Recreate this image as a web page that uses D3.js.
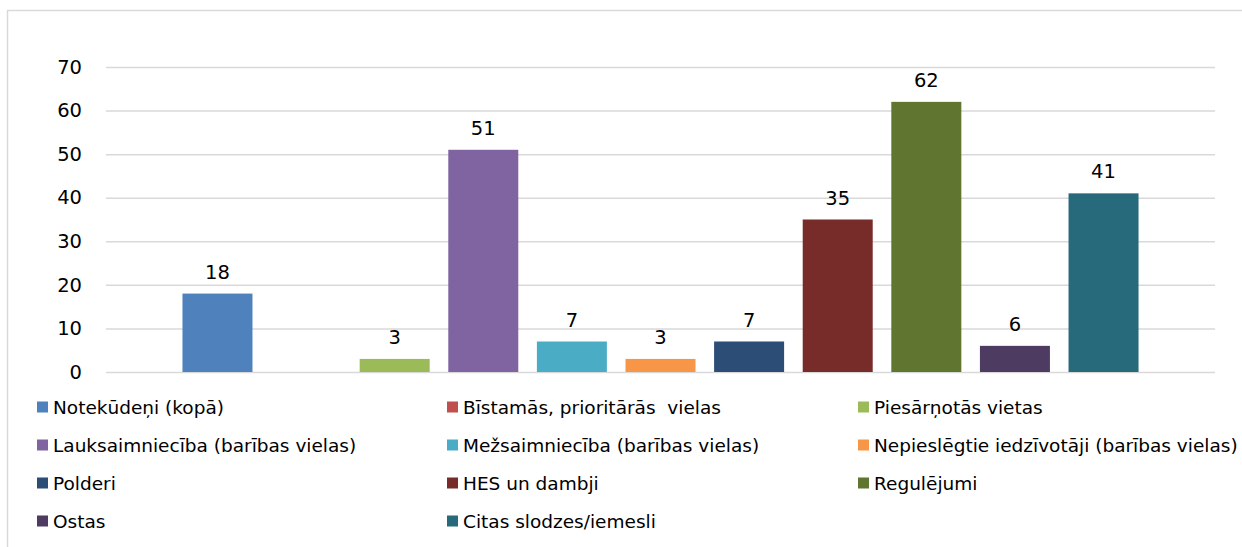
<!DOCTYPE html>
<html>
<head>
<meta charset="utf-8">
<script src="https://cdn.jsdelivr.net/npm/d3@7/dist/d3.min.js"></script>
<style>
  body { margin: 0; background: #fff; }
  svg text { font-family: Tahoma, "DejaVu Sans", Verdana, sans-serif; fill: #000; }
</style>
</head>
<body>
<div id="chart"></div>
<script>
const seriesNames = [
  `Notekūdeņi (kopā)`,
  `Bīstamās, prioritārās  vielas`,
  `Piesārņotās vietas`,
  `Lauksaimniecība (barības vielas)`,
  `Mežsaimniecība (barības vielas)`,
  `Nepieslēgtie iedzīvotāji (barības vielas)`,
  `Polderi`,
  `HES un dambji`,
  `Regulējumi`,
  `Ostas`,
  `Citas slodzes/iemesli`
];
const seriesValues = [18, 0, 3, 51, 7, 3, 7, 35, 62, 6, 41];
const seriesColors = [
  `#4f81bd`, `#c0504d`, `#9bbb59`, `#8064a2`, `#4bacc6`, `#f79646`,
  `#2c4d75`, `#772c2a`, `#5f7530`, `#4d3b62`, `#276a7c`
];
const yTicks = [0, 10, 20, 30, 40, 50, 60, 70];

const width = 1242;
const height = 547;
const plot = { left: 106, right: 1215, top: 67, bottom: 372 };

const svg = d3.select(`#chart`).append(`svg`)
    .attr(`width`, width)
    .attr(`height`, height);

// chart frame
svg.append(`path`)
    .attr(`d`, `M7.5,${height} V10.5 H${width}`)
    .attr(`fill`, `none`)
    .attr(`stroke`, `#d9d9d9`)
    .attr(`stroke-width`, 1.5);

const y = d3.scaleLinear()
    .domain([0, 70])
    .range([plot.bottom, plot.top]);

const x = d3.scaleBand()
    .domain(seriesNames)
    .range([plot.left, plot.right])
    .paddingInner(0.21)
    .paddingOuter(0.863);

// gridlines + tick labels
const yAxis = svg.append(`g`)
    .attr(`transform`, `translate(${plot.left},0)`)
    .call(d3.axisLeft(y).tickValues(yTicks).tickSize(-(plot.right - plot.left)).tickPadding(24));
yAxis.select(`.domain`).remove();
yAxis.selectAll(`.tick line`)
    .attr(`stroke`, `#d9d9d9`)
    .attr(`stroke-width`, 1.5);
yAxis.selectAll(`.tick text`)
    .attr(`font-size`, 19.5)
    .attr(`font-family`, `Tahoma, "DejaVu Sans", sans-serif`)
    .attr(`fill`, `#000`);

const data = seriesNames.map((name, i) => ({ name, value: seriesValues[i], color: seriesColors[i] }));

svg.append(`g`).selectAll(`rect`)
    .data(data.filter((d) => d.value > 0))
  .enter().append(`rect`)
    .attr(`x`, (d) => x(d.name))
    .attr(`y`, (d) => y(d.value))
    .attr(`width`, x.bandwidth())
    .attr(`height`, (d) => y(0) - y(d.value))
    .attr(`fill`, (d) => d.color);

svg.append(`g`).selectAll(`text`)
    .data(data.filter((d) => d.value > 0))
  .enter().append(`text`)
    .attr(`x`, (d) => x(d.name) + x.bandwidth() / 2)
    .attr(`y`, (d) => y(d.value) - 15)
    .attr(`text-anchor`, `middle`)
    .attr(`font-size`, 19.5)
    .text((d) => d.value);

// legend, 3 columns
const colX = [37, 447, 858];
const rowY = [407, 445, 483, 521];
const legend = svg.append(`g`).selectAll(`g`)
    .data(data)
  .enter().append(`g`)
    .attr(`transform`, (d, i) => `translate(${colX[i % 3]},${rowY[Math.floor(i / 3)]})`);

legend.append(`rect`)
    .attr(`x`, 0)
    .attr(`y`, -5.5)
    .attr(`width`, 11)
    .attr(`height`, 11)
    .attr(`fill`, (d) => d.color);

legend.append(`text`)
    .attr(`x`, 16)
    .attr(`y`, 0)
    .attr(`dy`, `0.36em`)
    .attr(`font-size`, 18.5)
    .attr(`xml:space`, `preserve`)
    .style(`white-space`, `pre`)
    .text((d) => d.name);
</script>
</body>
</html>
